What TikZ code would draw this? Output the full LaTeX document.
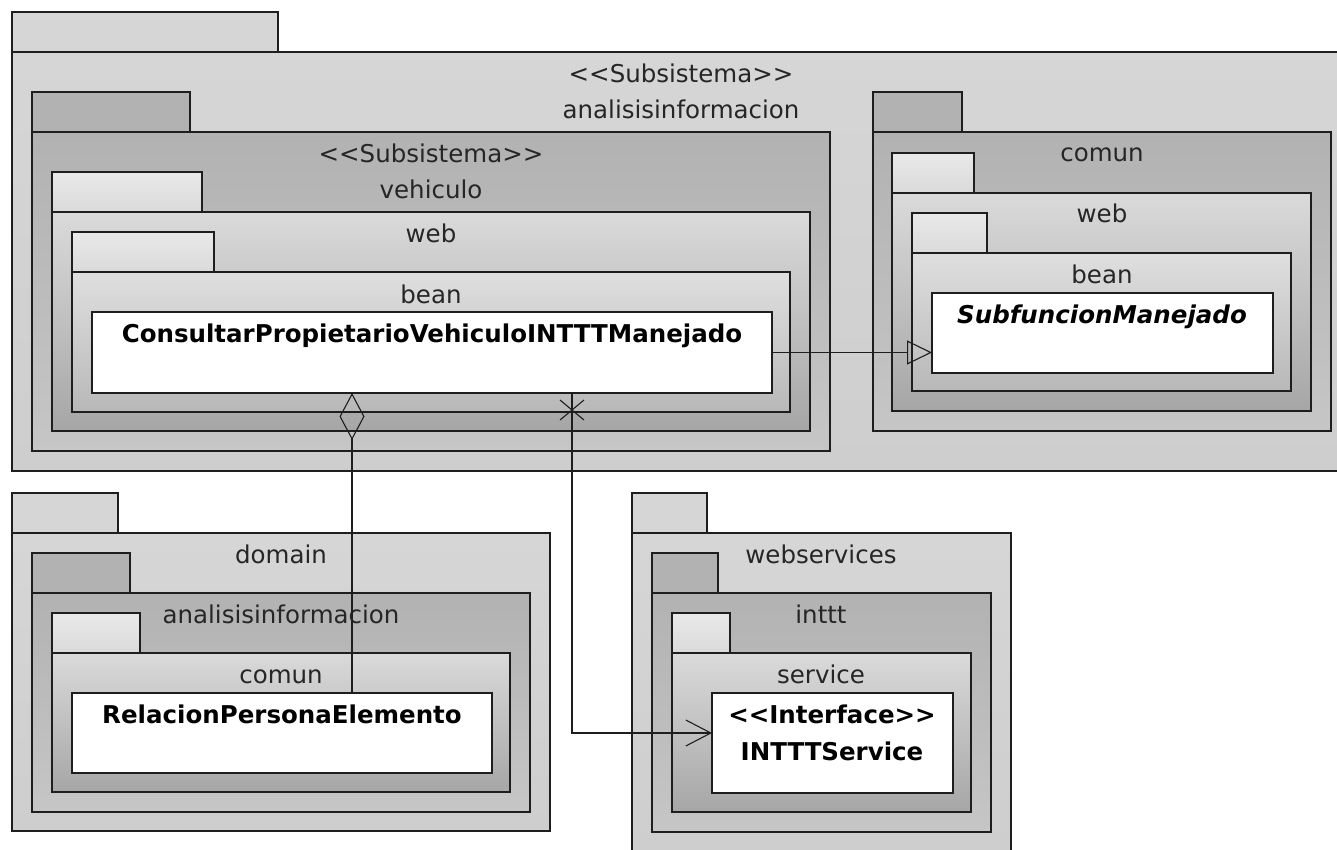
\documentclass[tikz,border=0pt]{standalone}
\usepackage{fontspec}
\newfontfamily\umlfont{DejaVu Sans}
\usepackage{tikz}
\usetikzlibrary{arrows.meta,positioning}

\definecolor{lvlAtop}{RGB}{214,214,214}
\definecolor{lvlAbot}{RGB}{206,206,206}
\definecolor{lvlBtop}{RGB}{178,178,178}
\definecolor{lvlBbot}{RGB}{198,198,198}
\definecolor{lvlCtop}{RGB}{218,218,218}
\definecolor{lvlCbot}{RGB}{166,166,166}
\definecolor{lvlDtop}{RGB}{223,223,223}
\definecolor{lvlDbot}{RGB}{184,184,184}
\definecolor{umlline}{RGB}{30,30,30}

\begin{document}
\begin{tikzpicture}[
        x=1pt, y=-1pt,
        every node/.style={font=\umlfont\fontsize{24.5}{29}\selectfont},
        pkgbody/.style 2 args={draw=umlline, line width=1.1pt, anchor=north west, inner sep=0pt, outer sep=0pt, minimum width=#1, minimum height=#2},
        pkgtab/.style={draw=umlline, line width=1.1pt, anchor=south west, inner sep=0pt, outer sep=0pt, minimum width=#1, minimum height=40},
        lvlA/.style={top color=lvlAtop, bottom color=lvlAbot},
        lvlB/.style={top color=lvlBtop, bottom color=lvlBbot},
        lvlC/.style={top color=lvlCtop, bottom color=lvlCbot},
        lvlD/.style={top color=lvlDtop, bottom color=lvlDbot},
        tabA/.style={fill=lvlAtop},
        tabB/.style={fill=lvlBtop},
        tabC/.style={top color=lvlCtop!60!white, bottom color=lvlCtop},
        classbox/.style 2 args={draw=umlline, line width=1.1pt, fill=white, anchor=north west, inner sep=0pt, outer sep=0pt, minimum width=#1, minimum height=#2},
        pkgname/.style={anchor=base, inner sep=0pt, text=black!85},
        clsname/.style={anchor=base, inner sep=0pt, text=black, font=\umlfont\bfseries\fontsize{24.5}{29}\selectfont},
        genline/.style={draw=umlline, line width=1.1pt, -{Triangle[open, length=25pt, width=24pt]}},
        aggline/.style={draw=umlline, line width=1.1pt, {Diamond[open, length=47pt, width=25pt]}-},
        navline/.style={draw=umlline, line width=1.1pt, -{Straight Barb[length=25pt, width=26pt]}},
        crossmark/.style={draw=umlline, line width=1.1pt}
        ]
        \useasboundingbox (0,0) rectangle (1337,850);

        % Subsistema analisisinformacion (runs past the right border)
        \node[pkgbody={1338}{419}, lvlA] (anaBody) at (12,52) {};
        \node[pkgtab=266, tabA] (anaTab) at (anaBody.north west) {};
        \node[pkgname] (anaStereo) at (681,83) {<<Subsistema>>};
        \node[pkgname] (anaName) at (681,119) {analisisinformacion};

        % Subsistema vehiculo > web > bean
        \node[pkgbody={798}{319}, lvlB] (vehBody) at (32,132) {};
        \node[pkgtab=158, tabB] (vehTab) at (vehBody.north west) {};
        \node[pkgname] (vehStereo) at (431,163) {<<Subsistema>>};
        \node[pkgname] (vehName) at (431,199) {vehiculo};

        \node[pkgbody={758}{219}, lvlC] (vwebBody) at (52,212) {};
        \node[pkgtab=150, tabC] (vwebTab) at (vwebBody.north west) {};
        \node[pkgname] (vwebName) at (431,242) {web};

        \node[pkgbody={718}{140}, lvlD] (vbeanBody) at (72,272) {};
        \node[pkgtab=142, tabC] (vbeanTab) at (vbeanBody.north west) {};
        \node[pkgname] (vbeanName) at (431,303) {bean};

        \node[classbox={680}{81}] (cons) at (92,312) {};
        \node[clsname] (consName) at (432,342) {ConsultarPropietarioVehiculoINTTTManejado};

        % comun > web > bean
        \node[pkgbody={458}{299}, lvlB] (comBody) at (873,132) {};
        \node[pkgtab=89, tabB] (comTab) at (comBody.north west) {};
        \node[pkgname] (comName) at (1102,162) {comun};

        \node[pkgbody={419}{218}, lvlC] (cwebBody) at (892,193) {};
        \node[pkgtab=82, tabC] (cwebTab) at (cwebBody.north west) {};
        \node[pkgname] (cwebName) at (1102,223) {web};

        \node[pkgbody={379}{138}, lvlD] (cbeanBody) at (912,253) {};
        \node[pkgtab=75, tabC] (cbeanTab) at (cbeanBody.north west) {};
        \node[pkgname] (cbeanName) at (1102,283) {bean};

        \node[classbox={341}{80}] (sub) at (932,293) {};
        \node[clsname, font=\umlfont\bfseries\itshape\fontsize{24.5}{29}\selectfont] (subName) at (1102,323) {SubfuncionManejado};

        % domain > analisisinformacion > comun
        \node[pkgbody={538}{298}, lvlA] (domBody) at (12,533) {};
        \node[pkgtab=106, tabA] (domTab) at (domBody.north west) {};
        \node[pkgname] (domName) at (281,563) {domain};

        \node[pkgbody={498}{219}, lvlB] (danaBody) at (32,593) {};
        \node[pkgtab=98, tabB] (danaTab) at (danaBody.north west) {};
        \node[pkgname] (danaName) at (281,623) {analisisinformacion};

        \node[pkgbody={458}{139}, lvlC] (dcomBody) at (52,653) {};
        \node[pkgtab=88, tabC] (dcomTab) at (dcomBody.north west) {};
        \node[pkgname] (dcomName) at (281,683) {comun};

        \node[classbox={420}{80}] (rel) at (72,693) {};
        \node[clsname] (relName) at (282,723) {RelacionPersonaElemento};

        % webservices > inttt > service
        \node[pkgbody={379}{319}, lvlA] (wsBody) at (632,533) {};
        \node[pkgtab=75, tabA] (wsTab) at (wsBody.north west) {};
        \node[pkgname] (wsName) at (821,563) {webservices};

        \node[pkgbody={339}{239}, lvlB] (intBody) at (652,593) {};
        \node[pkgtab=66, tabB] (intTab) at (intBody.north west) {};
        \node[pkgname] (intName) at (821,623) {inttt};

        \node[pkgbody={299}{159}, lvlC] (svcBody) at (672,653) {};
        \node[pkgtab=58, tabC] (svcTab) at (svcBody.north west) {};
        \node[pkgname] (svcName) at (821,683) {service};

        \node[classbox={241}{100}] (isvc) at (712,693) {};
        \node[clsname] (isvcStereo) at (832,723) {<<Interface>>};
        \node[clsname] (isvcName) at (832,760) {INTTTService};

        % Relations
        \draw[genline] (cons.east) -- (cons.east -| sub.west);

        \coordinate (aggtop) at (352,393);
        \draw[aggline] (aggtop) -- (aggtop |- rel.north);

        \coordinate (navtop) at (572,393);
        \coordinate (navx) at (572,410);
        \draw[navline] (navtop) |- ([yshift=10pt]isvc.west);
        \draw[crossmark] (navx) ++(-12,-10) -- ++(24,20) (navx) ++(-12,10) -- ++(24,-20);

    \end{tikzpicture}
\end{document}
